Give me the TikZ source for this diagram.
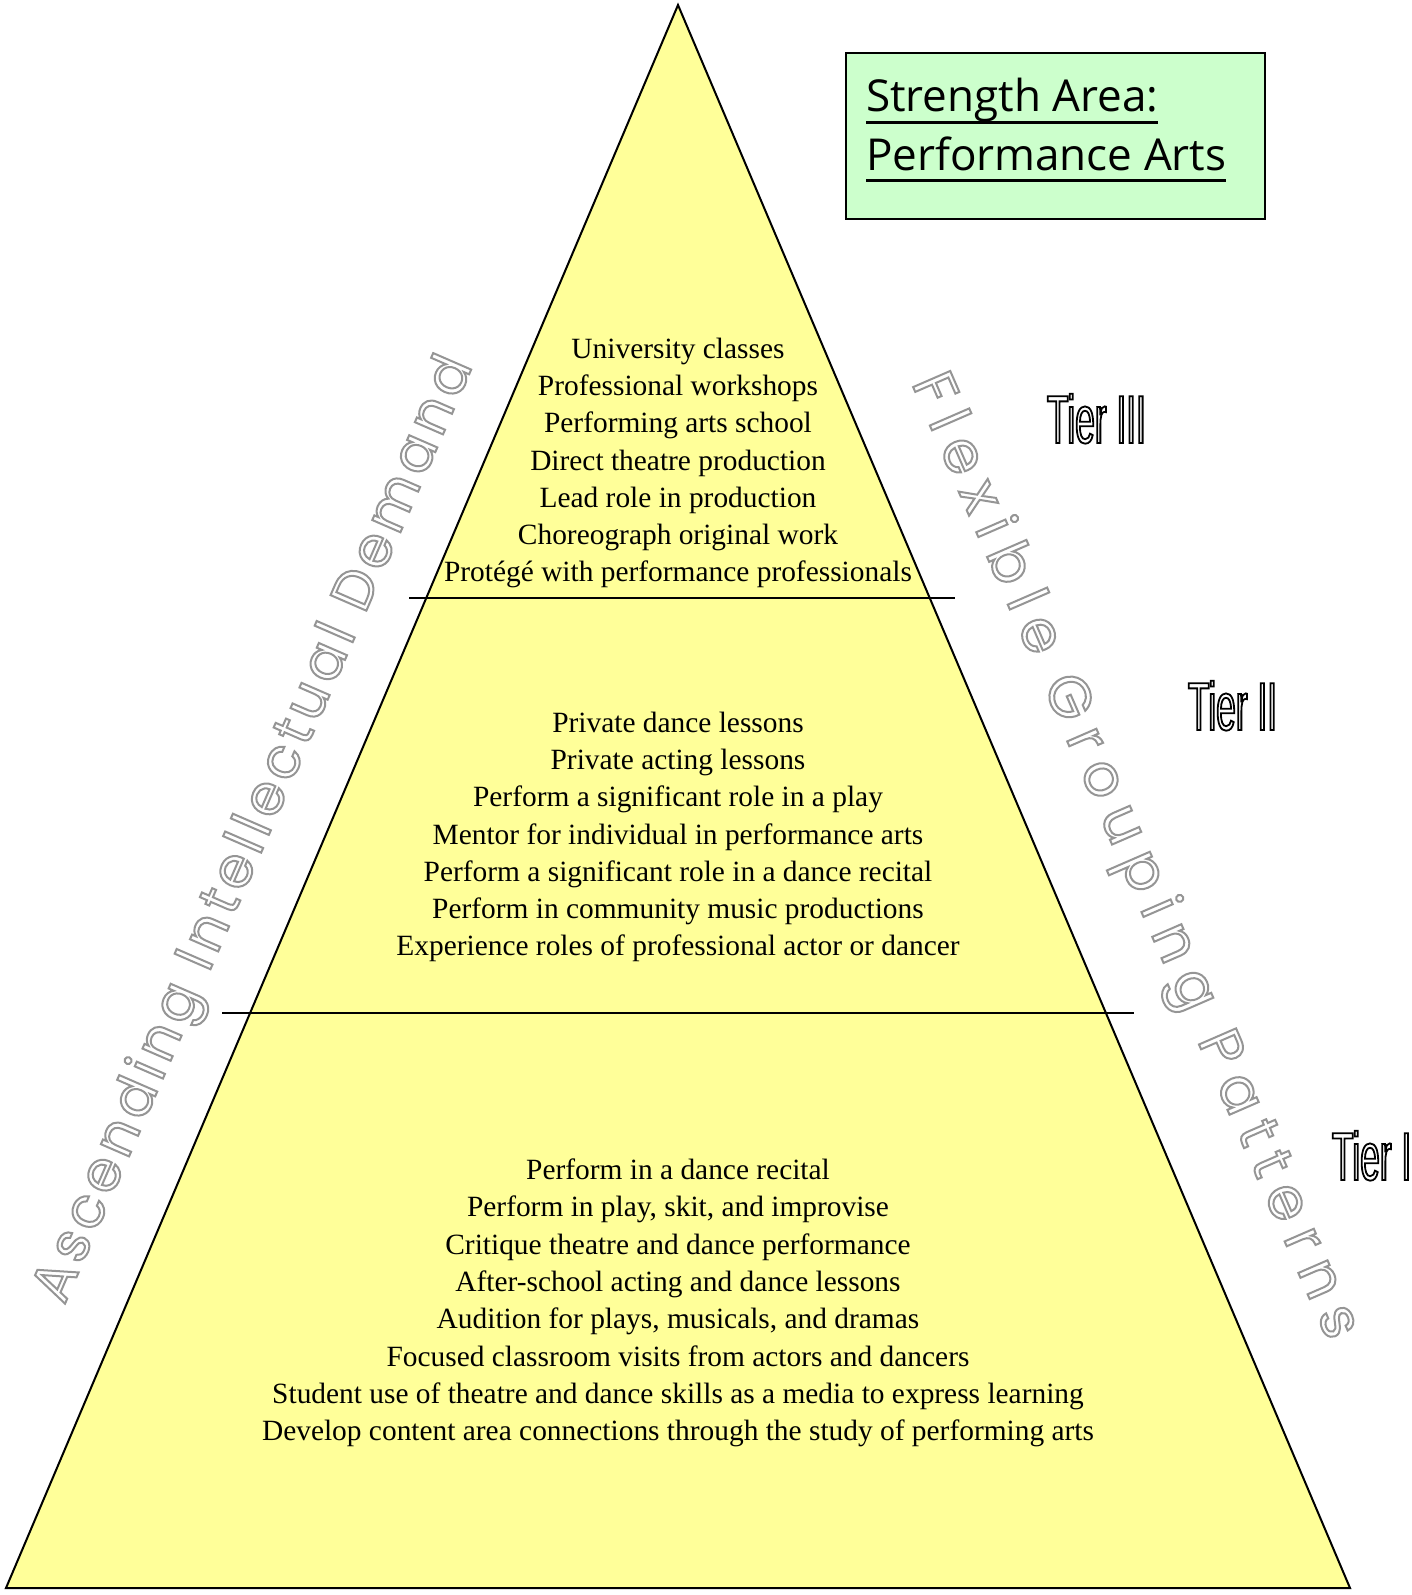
\documentclass[tikz,border=0pt]{standalone}
\usepackage{fontspec}
\setmainfont{Liberation Serif}
\newfontfamily\titlefont{Open Sans}
\newfontfamily\tierfont[FakeStretch=0.52]{Liberation Sans}
\newfontfamily\sidefontA[LetterSpace=10]{Poppins}
\newfontfamily\sidefontB[LetterSpace=22]{Poppins}
\definecolor{PyramidYellow}{HTML}{FFFF99}
\definecolor{TitleGreen}{HTML}{CCFFCC}
\definecolor{SideGray}{HTML}{959595}
\usetikzlibrary{positioning}
% hollow letters (stroke only)
\newcommand{\hollowtext}[2]{\special{pdf:literal direct 1 Tr #1 w}#2\special{pdf:literal direct 0 Tr}}
\newlength{\titlelen}
\newcommand{\titleline}[1]{\leavevmode\settowidth{\titlelen}{#1}\rlap{\rule[-6pt]{\titlelen}{1.5pt}}#1}

\begin{document}
\begin{tikzpicture}[x=0.5pt, y=-0.5pt, every node/.style={inner sep=0pt, outer sep=0pt},
	tierlist/.style={align=center, font=\fontsize{14.7}{18.65}\selectfont},
	tierlabel/.style={anchor=base west, font=\tierfont\fontsize{34}{34}\selectfont},
	sidetext/.style={text=SideGray},
	titletext/.style={anchor=base west, font=\titlefont\fontsize{22}{22}\selectfont}]
			\useasboundingbox (0,0) rectangle (1412,1595);
			% Pyramide
			\coordinate (apex) at (678,5);
			\coordinate (bl) at (6,1588);
			\coordinate (br) at (1350,1588);
			\filldraw[fill=PyramidYellow, draw=black, line width=1pt, line join=miter] (apex) -- (br) -- (bl) -- cycle;
			%
			% Lignes entre les niveaux
			\coordinate (cutAl) at (409,598);
			\coordinate (cutAr) at (955,598);
			\coordinate (cutBl) at (222,1013);
			\coordinate (cutBr) at (1134,1013);
			\draw[line width=0.7pt] (cutAl) -- (cutAr);
			\draw[line width=0.7pt] (cutBl) -- (cutBr);
			%
			% Niveau III
			\node[tierlist] (listIII) at (678,463) {University classes\\ Professional workshops\\ Performing arts school\\ Direct theatre production\\ Lead role in production\\ Choreograph original work\\ Prot\'eg\'e with performance professionals};
			%
			% Niveau II
			\node[tierlist] (listII) at (678,837) {Private dance lessons\\ Private acting lessons\\ Perform a significant role in a play\\ Mentor for individual in performance arts\\ Perform a significant role in a dance recital\\ Perform in community music productions\\ Experience roles of professional actor or dancer};
			%
			% Niveau I
			\node[tierlist] (listI) at (678,1303) {Perform in a dance recital\\ Perform in play, skit, and improvise\\ Critique theatre and dance performance\\ After-school acting and dance lessons\\ Audition for plays, musicals, and dramas\\ Focused classroom visits from actors and dancers\\ Student use of theatre and dance skills as a media to express learning\\ Develop content area connections through the study of performing arts};
			%
			% Etiquettes des niveaux
			\node[tierlabel] (tierIII) at (1047,443) {\hollowtext{0.9}{Tier III}};
			\node[tierlabel] (tierII) at (1188,730) {\hollowtext{0.9}{Tier II}};
			\node[tierlabel] (tierI) at (1332,1180) {\hollowtext{0.9}{Tier I}};
			%
			% Textes obliques le long des cotes
			\node[sidetext, rotate=66.5, font=\sidefontA\fontsize{28}{28}\selectfont] (ascending) at (256,830) {\hollowtext{1.0}{Ascending Intellectual Demand}};
			\node[sidetext, rotate=-66.5, font=\sidefontB\fontsize{29}{29}\selectfont] (flexible) at (1133,857) {\hollowtext{1.0}{Flexible Grouping Patterns}};
			%
			% Cadre du titre
			\node[draw, fill=TitleGreen, line width=0.8pt, minimum width=209.5pt, minimum height=83pt] (titlebox) at (1055.5,136) {};
			\node[titletext] (titleA) at (866,112) {\titleline{Strength Area:}};
			\node[titletext] (titleB) at (866,170) {\titleline{Performance Arts}};
		\end{tikzpicture}
\end{document}
